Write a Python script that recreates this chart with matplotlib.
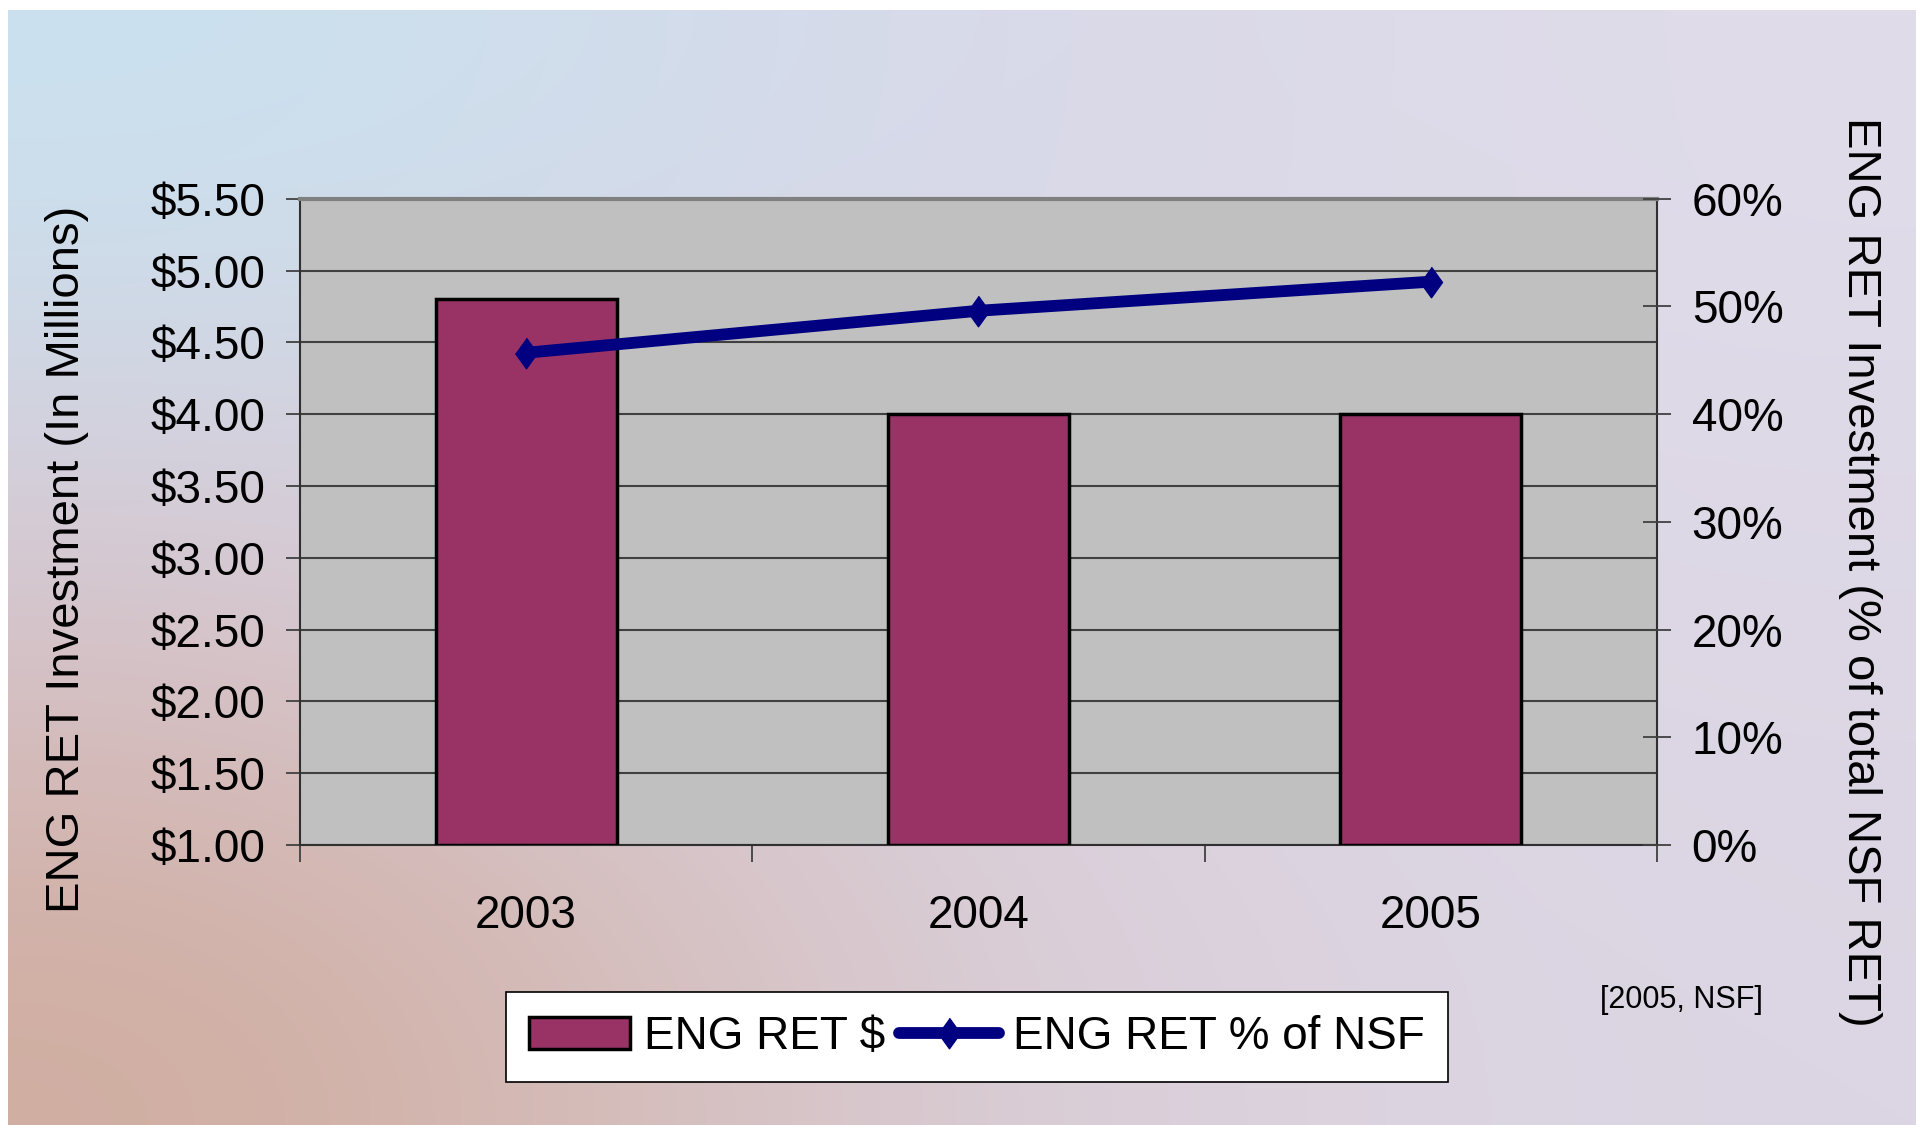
import numpy as np
import matplotlib
matplotlib.use("Agg")
import matplotlib.pyplot as plt
from matplotlib.patches import Patch
from matplotlib.lines import Line2D
from matplotlib.ticker import FuncFormatter, FixedLocator

plt.rcParams['font.family'] = ['Liberation Sans', 'DejaVu Sans']

years = ['2003', '2004', '2005']
eng_ret_dollars = [4.80, 4.00, 4.00]      # millions
eng_ret_pct = [0.457, 0.496, 0.523]       # share of total NSF RET
left_ticks = [1.0, 1.5, 2.0, 2.5, 3.0, 3.5, 4.0, 4.5, 5.0, 5.5]
right_ticks = [0.0, 0.1, 0.2, 0.3, 0.4, 0.5, 0.6]

W, H = 1916, 1125
fig = plt.figure(figsize=(W / 100, H / 100), dpi=100)
fig.patch.set_facecolor('white')

# soft slide background
bg = fig.add_axes([8 / W, 0, 1 - 8 / W, 1 - 10 / H], zorder=-10)
cols = np.array([
    [[202, 226, 240], [216, 216, 232], [224, 220, 234]],
    [[216, 200, 212], [220, 214, 228], [222, 216, 230]],
    [[208, 172, 158], [218, 206, 216], [220, 214, 228]],
]) / 255.0
bg.imshow(cols, interpolation='bicubic', aspect='auto', extent=[0, 1, 0, 1])
bg.set_axis_off()

ax = fig.add_axes([300 / W, 1 - 845 / H, 1357 / W, 646.25 / H])
ax.set_facecolor('#c0c0c0')
x = np.arange(len(years))
ax.bar(x, [v - 1.0 for v in eng_ret_dollars], bottom=1.0, width=0.4,
       color='#993366', edgecolor='black', linewidth=2.5, zorder=3)
ax.set_xlim(-0.5, 2.5)
ax.set_ylim(1.0, 5.5)
ax.set_yticks(left_ticks)
ax.yaxis.set_major_formatter(FuncFormatter(lambda v, p: f'${v:.2f}'))
ax.grid(axis='y', color='#404040', linewidth=1.5, zorder=1)
ax.set_axisbelow(True)
ax.tick_params(axis='y', direction='inout', length=20, width=1.3,
               color='#404040', labelsize=33, pad=15)
ax.set_xticks(x)
ax.set_xticklabels(years)
ax.xaxis.set_minor_locator(FixedLocator([-0.5, 0.5, 1.5, 2.5]))
ax.tick_params(axis='x', which='major', length=0, labelsize=33, pad=35)
ax.tick_params(axis='x', which='minor', direction='out', length=12,
               width=1.3, color='#404040')
for s in ['left', 'right', 'bottom']:
    ax.spines[s].set_color('#303030')
    ax.spines[s].set_linewidth(1.5)
ax.spines['top'].set_color('#808080')
ax.spines['top'].set_linewidth(3)

ax2 = ax.twinx()
ax2.set_ylim(0, 0.6)
ax2.set_yticks(right_ticks)
ax2.yaxis.set_major_formatter(FuncFormatter(lambda v, p: f'{v * 100:.0f}%'))
ax2.tick_params(axis='y', direction='inout', length=20, width=1.3,
                color='#404040', labelsize=33, pad=15)
diamond = [(0, 1), (0.72, 0), (0, -1), (-0.72, 0)]
ax2.plot(x, eng_ret_pct, color='#000080', linewidth=8.5, marker=diamond,
         markersize=22, zorder=5, solid_capstyle='round')
for s in ax2.spines.values():
    s.set_visible(False)

fig.text(67 / W, 1 - 559 / H, 'ENG RET Investment (In Millions)',
         rotation=90, ha='center', va='center', fontsize=34)
fig.text(1860 / W, 1 - 572 / H, 'ENG RET Investment (% of total NSF RET)',
         rotation=270, ha='center', va='center', fontsize=34)
fig.text(1763 / W, 1 - 1000 / H, '[2005, NSF]', ha='right', va='center',
         fontsize=22)

handles = [Patch(facecolor='#993366', edgecolor='black', linewidth=2.5),
           Line2D([0], [0], color='#000080', linewidth=8.5, marker=diamond,
                  markersize=22, solid_capstyle='round')]
leg = fig.legend(handles, ['ENG RET $', 'ENG RET % of NSF'], ncol=2,
                 loc='center', bbox_to_anchor=(977 / W, 1 - 1037 / H),
                 fontsize=33, frameon=True, fancybox=False, framealpha=1,
                 edgecolor='black', handlelength=2.2, handletextpad=0.3,
                 columnspacing=0.3, borderpad=0.5)
leg.get_frame().set_linewidth(1.2)

fig.savefig('out.png', dpi=100)
